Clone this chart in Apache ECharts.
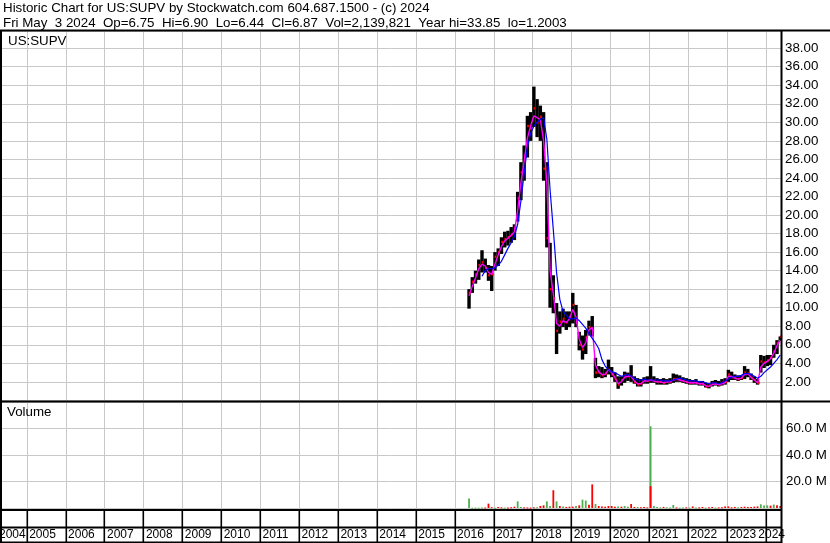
<!DOCTYPE html>
<html><head><meta charset="utf-8">
<script src="https://cdn.jsdelivr.net/npm/echarts@6/dist/echarts.min.js"></script>
<style>html,body{margin:0;padding:0;background:#fff}#c{width:830px;height:543px}</style>
</head><body><div id="c"></div>
<script>
// ---------- DATA (monthly) ----------
const firstMonth = [2016, 5];          // May 2016 .. May 2024 (97 months)
const lows = [
  9.9, 11.6, 12.6, 13.0, 13.8, 13.8, 12.9, 11.8,
  14.0, 14.5, 15.8, 16.5, 16.7, 17.0, 17.3, 19.3, 21.6, 23.7, 26.2, 28.0,
  29.5, 28.4, 28.0, 23.7, 16.5, 10.0, 9.4, 5.0, 7.2, 7.9, 7.6, 7.9,
  8.3, 7.9, 5.4, 4.4, 5.0, 7.0, 6.9, 2.4, 2.5, 2.4, 2.5, 2.8,
  2.5, 2.0, 1.25, 1.6, 1.9, 2.1, 2.0, 1.8, 1.5, 1.5, 1.8, 1.8,
  1.9, 1.9, 1.7, 1.7, 1.7, 1.7, 1.8, 1.9, 2.0, 2.0, 1.9, 1.8,
  1.7, 1.7, 1.7, 1.6, 1.6, 1.4, 1.3, 1.5, 1.6, 1.5, 1.6, 1.7,
  2.0, 2.2, 2.2, 2.1, 2.2, 2.3, 2.5, 2.2, 1.9, 1.7, 3.0, 3.5,
  3.7, 3.8, 4.6, 5.0, 6.44
];
const highs = [
  12.0, 13.3, 14.0, 15.2, 16.2, 15.3, 14.6, 14.5,
  16.0, 16.4, 17.6, 18.2, 18.3, 18.7, 19.0, 22.5, 25.7, 27.5, 30.7, 31.1,
  33.85, 32.5, 31.8, 31.1, 25.7, 17.0, 13.5, 10.5, 9.6, 9.9, 9.6, 9.6,
  11.6, 10.3, 7.4, 7.0, 7.6, 8.6, 9.1, 4.6, 3.7, 3.6, 3.4, 4.4,
  3.6, 3.0, 2.6, 2.6, 3.1, 3.0, 3.8, 2.6, 2.4, 2.3, 2.5, 2.6,
  3.7, 2.6, 2.4, 2.3, 2.4, 2.3, 2.4, 2.9, 2.8, 2.7, 2.5, 2.4,
  2.3, 2.2, 2.3, 2.1, 2.1, 1.9, 1.8, 2.1, 2.2, 2.1, 2.3, 2.4,
  3.3, 3.1, 2.8, 2.7, 2.7, 3.7, 3.4, 2.9, 2.6, 2.3, 4.9, 4.8,
  4.9, 4.9, 6.0, 6.5, 6.90
];
const closes = [
  11.6, 12.8, 13.6, 14.6, 14.9, 14.3, 13.5, 13.6,
  15.5, 16.0, 17.1, 17.4, 17.6, 17.9, 18.6, 21.8, 24.6, 26.4, 29.6, 29.3,
  31.5, 30.0, 30.6, 25.0, 17.5, 12.0, 11.0, 7.5, 8.5, 8.8, 8.4, 9.0,
  10.3, 8.4, 6.0, 5.5, 6.8, 7.9, 7.6, 3.0, 3.0, 2.7, 2.9, 3.3,
  2.8, 2.3, 1.7, 2.2, 2.7, 2.6, 2.5, 2.0, 1.7, 1.8, 2.2, 2.1,
  2.2, 2.1, 2.0, 2.0, 1.9, 2.0, 2.0, 2.3, 2.3, 2.2, 2.1, 2.0,
  1.9, 1.9, 1.9, 1.8, 1.8, 1.5, 1.6, 1.8, 1.8, 1.7, 1.9, 2.0,
  2.8, 2.5, 2.4, 2.3, 2.4, 3.0, 2.9, 2.4, 2.2, 1.9, 4.2, 4.1,
  4.3, 4.6, 5.3, 6.2, 6.87
];
const maShort = [
  11.3, 12.3, 13.2, 14.2, 14.7, 14.5, 13.8, 13.6,
  14.7, 15.7, 16.6, 17.2, 17.5, 17.8, 18.2, 20.5, 23.5, 25.8, 28.3, 29.6,
  30.7, 30.5, 30.3, 28.0, 23.5, 14.0, 11.5, 8.3, 8.0, 8.6, 8.4, 8.8,
  9.8, 9.0, 6.6, 5.7, 6.2, 7.6, 7.9, 3.8, 3.1, 2.8, 2.8, 3.3,
  3.0, 2.5, 1.8, 2.0, 2.5, 2.6, 2.6, 2.1, 1.8, 1.8, 2.1, 2.1,
  2.2, 2.1, 2.0, 2.0, 1.9, 2.0, 2.0, 2.2, 2.3, 2.2, 2.1, 2.0,
  1.9, 1.9, 1.9, 1.8, 1.8, 1.6, 1.5, 1.7, 1.8, 1.7, 1.8, 1.9,
  2.6, 2.6, 2.4, 2.3, 2.4, 2.8, 2.9, 2.5, 2.2, 1.9, 3.6, 4.0,
  4.2, 4.5, 5.1, 5.9, 6.5
];
const maLongFirst = [2016, 9];         // Sep 2016 .. May 2024
const maLong = [
  13.4, 14.0, 14.2, 14.2,
  14.3, 14.6, 15.0, 15.7, 16.4, 17.0, 17.7, 19.0, 21.5, 24.5, 27.3, 28.8,
  29.6, 30.0, 30.3, 30.5, 28.2, 22.7, 18.4, 13.8, 10.9, 9.6, 9.2, 8.8,
  8.8, 8.9, 8.6, 8.2, 7.8, 7.2, 6.7, 6.2, 5.6, 4.4, 3.7, 3.3,
  3.1, 3.0, 2.8, 2.6, 2.7, 2.8, 2.6, 2.4, 2.2, 2.2, 2.3, 2.2,
  2.2, 2.2, 2.2, 2.2, 2.1, 2.1, 2.1, 2.2, 2.3, 2.4, 2.3, 2.2,
  2.1, 2.1, 2.1, 2.0, 2.0, 1.9, 1.8, 1.9, 1.9, 1.8, 1.9, 2.1,
  2.3, 2.5, 2.6, 2.6, 2.7, 2.9, 2.9, 2.8, 2.6, 2.4, 2.6, 3.0,
  3.3, 3.6, 4.0, 4.4, 4.9
];
// volume in millions, 1 = up (green), 0 = down (red)
const volumes = [
  7.1, 0.2, 0.3, 0.2, 0.3, 0.4, 3.3, 0.6,
  0.2, 0.8, 0.5, 0.3, 0.4, 0.6, 1.0, 5.0, 0.8, 0.5, 0.4, 0.3,
  0.5, 0.6, 1.5, 2.0, 5.0, 1.5, 13.4, 5.0, 1.5, 1.2, 0.8, 1.0,
  1.0, 1.5, 2.0, 6.3, 5.6, 2.5, 17.8, 3.0, 1.5, 1.2, 1.0, 1.5,
  1.5, 1.0, 1.2, 1.0, 1.5, 1.0, 3.0, 0.8, 0.8, 0.6, 0.8, 0.5,
  61.6, 1.5, 0.8, 0.5, 0.8, 0.5, 0.3, 2.3, 0.5, 0.3, 0.3, 0.5,
  0.3, 1.2, 0.3, 0.5, 0.8, 0.3, 0.5, 0.8, 0.3, 0.5, 0.5, 1.2,
  1.2, 0.5, 0.8, 0.5, 0.8, 1.0, 0.8, 0.8, 1.0, 1.2, 2.8, 1.8,
  2.0, 1.8, 2.6, 2.0, 1.5
];
const volUp = [
  1,1,1,1,1,0,0,0,
  1,0,0,1,0,0,0,1,1,0,0,0,
  0,1,0,0,1,1,0,1,0,1,0,0,
  0,1,0,1,1,0,0,1,0,0,0,0,
  0,0,1,0,1,1,0,0,1,0,0,0,
  1,1,1,1,0,1,1,1,0,1,1,0,
  1,0,1,0,0,1,0,0,1,0,0,0,
  0,0,0,1,0,0,0,0,0,0,1,1,
  1,0,1,0,0
];
const volExtraMonths = ['2021-01'];
const volExtra = [16.5];
const volExtraUp = [0];
const yearLabels = [2004,2005,2006,2007,2008,2009,2010,2011,2012,2013,2014,2015,2016,2017,2018,2019,2020,2021,2022,2023,2024];
const headerLine1 = 'Historic Chart for US:SUPV by Stockwatch.com 604.687.1500 - (c) 2024';
const headerLine2 = 'Fri May  3 2024  Op=6.75  Hi=6.90  Lo=6.44  Cl=6.87  Vol=2,139,821  Year hi=33.85  lo=1.2003';
const symbolLabel = 'US:SUPV';
const volumeLabel = 'Volume';

// ---------- helpers ----------
const X0 = 2004.314, X1 = 2024.39;
function monthX(start, i) {
  const t = start[1] - 1 + i;
  const y = start[0] + Math.floor(t / 12);
  const m = (t % 12) + 1;
  return y + (m - 0.55) / 12;
}
function ymToX(s) { const p = s.split('-'); return +p[0] + (+p[1] - 0.55) / 12; }

const priceData = lows.map((l, i) => [monthX(firstMonth, i), l, highs[i], closes[i]]);
const maShortData = maShort.map((v, i) => [monthX(firstMonth, i), v]);
const maLongData = maLong.map((v, i) => [monthX(maLongFirst, i), v]);
const volData = volumes.map((v, i) => [monthX(firstMonth, i), v, volUp[i]]);
const volExtraData = volExtra.map((v, i) => [ymToX(volExtraMonths[i]), v, volExtraUp[i]]);
const yearBounds = yearLabels.filter(y => y > X0 && y < X1).map(y => [y]);

const FONT = 'Liberation Sans, Arial, sans-serif';
const GRIDC = '#c8c8c8';

function yearGridItem(params, api) {
  const cs = params.coordSys;
  const p = api.coord([api.value(0), 0]);
  const x = Math.round(p[0]) + 0.5;
  return { type: 'line', shape: { x1: x, y1: cs.y, x2: x, y2: cs.y + cs.height },
           style: { stroke: GRIDC, lineWidth: 1 }, silent: true };
}

const chart = echarts.init(document.getElementById('c'));
chart.setOption({
  animation: false,
  backgroundColor: '#fff',
  grid: [
    { left: 0, top: 31, width: 781, height: 369.4 },
    { left: 0, top: 402, width: 781, height: 106 },
    { left: 0, top: 510, width: 781, height: 33 }
  ],
  xAxis: [0, 1, 2].map(i => ({ type: 'value', gridIndex: i, min: X0, max: X1, show: false })),
  yAxis: [
    { type: 'value', gridIndex: 0, position: 'right', min: 0, max: 39.85, interval: 2,
      axisLine: { show: false }, axisTick: { show: false },
      splitLine: { show: true, lineStyle: { color: GRIDC, width: 1 } },
      axisLabel: { margin: 4, color: '#000', fontFamily: FONT, fontSize: 13.33,
        showMinLabel: false, showMaxLabel: false, formatter: v => v.toFixed(2) } },
    { type: 'value', gridIndex: 1, position: 'right', min: 0, max: 79.9, interval: 20,
      axisLine: { show: false }, axisTick: { show: false },
      splitLine: { show: true, lineStyle: { color: GRIDC, width: 1 } },
      axisLabel: { margin: 5, color: '#000', fontFamily: FONT, fontSize: 13.33,
        showMinLabel: false, showMaxLabel: false, formatter: v => v.toFixed(1) + ' M' } },
    { type: 'value', gridIndex: 2, min: 0, max: 1, show: false }
  ],
  series: [
    { type: 'custom', xAxisIndex: 0, yAxisIndex: 0, data: yearBounds, renderItem: yearGridItem, z: 1, silent: true },
    { type: 'custom', xAxisIndex: 1, yAxisIndex: 1, data: yearBounds, renderItem: yearGridItem, z: 1, silent: true },
    { type: 'custom', xAxisIndex: 0, yAxisIndex: 0, data: priceData, z: 3, silent: true,
      encode: { x: 0, y: [1, 2, 3] },
      renderItem: function (params, api) {
        const x = api.value(0);
        const pH = api.coord([x, api.value(2)]);
        const pL = api.coord([x, api.value(1)]);
        const pC = api.coord([x, api.value(3)]);
        return { type: 'group', children: [
          { type: 'rect', shape: { x: pH[0] - 1.7, y: pH[1], width: 3.4, height: Math.max(pL[1] - pH[1], 1) },
            style: { fill: '#000' } },
          { type: 'rect', shape: { x: pC[0] - 0.3, y: pC[1] - 1.2, width: 2.2, height: 2.4 },
            style: { fill: '#ff0000' } }
        ] };
      } },
    { type: 'line', xAxisIndex: 0, yAxisIndex: 0, data: maShortData, symbol: 'none', z: 4, silent: true,
      lineStyle: { color: '#ff00ff', width: 1.4 } },
    { type: 'line', xAxisIndex: 0, yAxisIndex: 0, data: maLongData, symbol: 'none', z: 5, silent: true,
      lineStyle: { color: '#0000ff', width: 1.2 } },
    { type: 'custom', xAxisIndex: 1, yAxisIndex: 1, data: volData.concat(volExtraData), z: 3, silent: true,
      renderItem: function (params, api) {
        const x = api.value(0);
        const p0 = api.coord([x, 0]);
        const p1 = api.coord([x, api.value(1)]);
        return { type: 'rect', shape: { x: p0[0] - 0.9, y: p1[1], width: 1.8, height: Math.max(p0[1] - p1[1], 1) },
                 style: { fill: api.value(2) ? '#4caf50' : '#ff0000' } };
      } },
    { type: 'custom', xAxisIndex: 2, yAxisIndex: 2, data: yearLabels.map(y => [y]), z: 6, silent: true, clip: false,
      renderItem: function (params, api) {
        const cs = params.coordSys;
        const y = api.value(0);
        const p = api.coord([y, 0]);
        const pn = api.coord([y + 1, 0]);
        const right = api.coord([X1, 0])[0];
        const children = [];
        if (y > X0) {
          children.push({ type: 'rect', shape: { x: Math.round(p[0]) - 0.5, y: cs.y, width: 1.6, height: cs.height },
                          style: { fill: '#000' } });
        }
        let tx, align;
        if (y < X0) { tx = pn[0] - 1; align = 'right'; }
        else if (y + 1 > X1) { tx = right + 4; align = 'right'; }
        else { tx = p[0] + 2.5; align = 'left'; }
        children.push({ type: 'text', style: { text: String(y), x: tx, y: cs.y + 25, align: align, verticalAlign: 'middle',
                        fill: '#000', font: '12px ' + FONT } });
        return { type: 'group', children: children };
      } }
  ],
  graphic: [
    { type: 'text', left: 3, top: 2, style: { text: headerLine1, fill: '#000', font: '13.33px ' + FONT } },
    { type: 'text', left: 3, top: 16.5, style: { text: headerLine2, fill: '#000', font: '13.33px ' + FONT } },
    { type: 'text', left: 8, top: 35, style: { text: symbolLabel, fill: '#000', font: '13.33px ' + FONT }, z: 10 },
    { type: 'text', left: 7, top: 406, style: { text: volumeLabel, fill: '#000', font: '13.33px ' + FONT }, z: 10 },
    { type: 'rect', shape: { x: 0, y: 29.5, width: 830, height: 2 }, style: { fill: '#000' }, z: 20 },
    { type: 'rect', shape: { x: 0, y: 30, width: 2, height: 513 }, style: { fill: '#000' }, z: 20 },
    { type: 'rect', shape: { x: 780.5, y: 30, width: 2, height: 513 }, style: { fill: '#000' }, z: 20 },
    { type: 'rect', shape: { x: 0, y: 400.5, width: 830, height: 2 }, style: { fill: '#000' }, z: 20 },
    { type: 'rect', shape: { x: 0, y: 509, width: 782, height: 2 }, style: { fill: '#000' }, z: 20 },
    { type: 'rect', shape: { x: 0, y: 526.5, width: 782, height: 2 }, style: { fill: '#000' }, z: 20 },
    { type: 'rect', shape: { x: 0, y: 541.5, width: 782, height: 2 }, style: { fill: '#000' }, z: 20 }
  ]
});
</script>
</body></html>
